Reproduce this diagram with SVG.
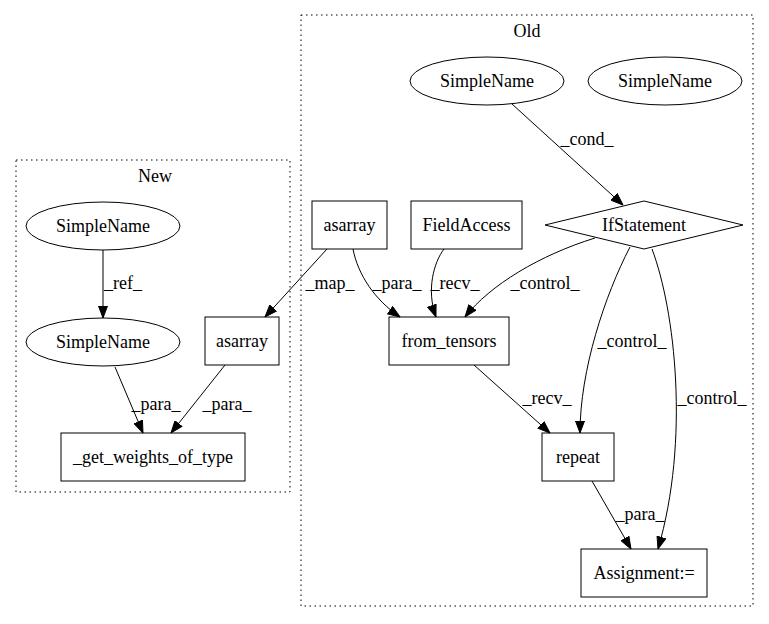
<svg xmlns="http://www.w3.org/2000/svg" width="769" height="624" viewBox="0 0 769 624" font-family="'Liberation Serif', 'DejaVu Serif', serif" font-size="18">
<style>
text{font-family:'Liberation Serif','DejaVu Serif',serif;font-size:18px;fill:#000;text-anchor:middle}
.n{fill:#fff;stroke:#000;stroke-width:1}
.cl{fill:none;stroke:#000;stroke-width:1;stroke-dasharray:1.5,3.5}
.e{fill:none;stroke:#000;stroke-width:1;marker-end:url(#ah)}
</style>
<defs>
<marker id="ah" markerUnits="userSpaceOnUse" markerWidth="13" markerHeight="10" refX="12.5" refY="5" orient="auto">
<path d="M0.5,0.5 L12.5,5 L0.5,9.5 z" fill="#000" stroke="#000"/>
</marker>
</defs>
<rect width="769" height="624" fill="#fff"/>
<g id="cluster_old"><rect class="cl" x="301" y="15" width="452" height="591"/><text x="527" y="37">Old</text></g>
<g id="cluster_new"><rect class="cl" x="16" y="160" width="274" height="332"/><text x="155" y="182">New</text></g>

<g id="old_sn1"><ellipse class="n" cx="487" cy="81" rx="77" ry="24"/><text x="487" y="87">SimpleName</text></g>
<g id="old_sn2"><ellipse class="n" cx="665" cy="81" rx="77" ry="24"/><text x="665" y="87">SimpleName</text></g>
<g id="old_asarray"><rect class="n" x="312" y="201" width="75" height="48"/><text x="349.5" y="231">asarray</text></g>
<g id="old_fieldaccess"><rect class="n" x="411" y="201" width="111" height="48"/><text x="466.5" y="231">FieldAccess</text></g>
<g id="old_if"><polygon class="n" points="545,225 644,201 743,225 644,249"/><text x="644" y="231">IfStatement</text></g>
<g id="old_from_tensors"><rect class="n" x="389" y="317" width="120" height="48"/><text x="449" y="347">from_tensors</text></g>
<g id="old_repeat"><rect class="n" x="542" y="433" width="72" height="48"/><text x="578" y="463">repeat</text></g>
<g id="old_assign"><rect class="n" x="581" y="549" width="126" height="48"/><text x="644" y="579">Assignment:=</text></g>

<g id="new_sn1"><ellipse class="n" cx="103" cy="226" rx="77" ry="24"/><text x="103" y="232">SimpleName</text></g>
<g id="new_sn2"><ellipse class="n" cx="103" cy="342" rx="77" ry="24"/><text x="103" y="348">SimpleName</text></g>
<g id="new_asarray"><rect class="n" x="205" y="317" width="74" height="48"/><text x="242" y="347">asarray</text></g>
<g id="new_gwot"><rect class="n" x="61" y="433" width="184" height="48"/><text x="153" y="463">_get_weights_of_type</text></g>

<g id="connectors">
<path class="e" d="M512,104 L623,205"/><text x="587" y="145">_cond_</text>
<path class="e" d="M327,249 L265,317"/><text x="330" y="289">_map_</text>
<path class="e" d="M353,249 C358,275 375,300 400,317"/><text x="397" y="289">_para_</text>
<path class="e" d="M444,249 C434,262 426,290 436,317"/><text x="455" y="289">_recv_</text>
<path class="e" d="M595,238 C540,255 490,285 465,317"/><text x="545" y="289">_control_</text>
<path class="e" d="M630,247 C605,295 580,370 580,433"/><text x="632" y="347">_control_</text>
<path class="e" d="M652,249 C675,310 690,440 658,549"/><text x="712" y="404">_control_</text>
<path class="e" d="M474,365 L550,433"/><text x="547" y="404">_recv_</text>
<path class="e" d="M592,481 L631,549"/><text x="640" y="520">_para_</text>
<path class="e" d="M103,250 L103,318"/><text x="123" y="289">_ref_</text>
<path class="e" d="M115,367 L143,433"/><text x="156" y="410">_para_</text>
<path class="e" d="M225,365 L171,433"/><text x="227" y="410">_para_</text>
</g>
</svg>
